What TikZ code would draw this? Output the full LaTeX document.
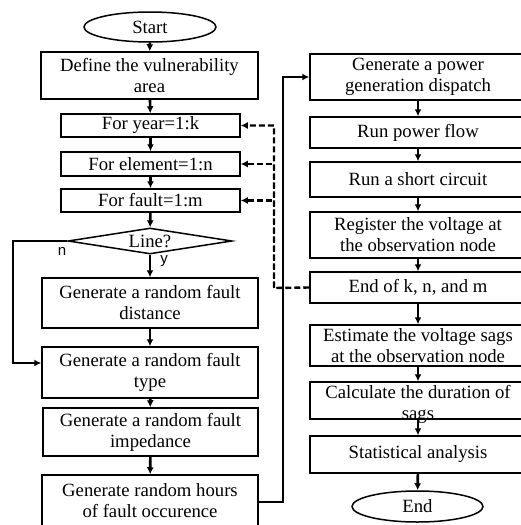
\documentclass[tikz,border=0pt]{standalone}
\usepackage{fontspec}
\setmainfont{Liberation Serif}
\newfontfamily\labsans{Liberation Sans}
\usetikzlibrary{arrows.meta,shapes.geometric,calc}
\begin{document}
\begin{tikzpicture}[x=1pt,y=-1pt,
  box/.style={draw,line width=1.5pt,rectangle,align=center,inner sep=0pt,
    font=\fontsize{18.7}{21}\selectfont},
  lbox/.style={box,minimum width=217pt},
  fbox/.style={box,minimum width=179pt},
  rbox/.style={box,minimum width=216pt},
  term/.style={draw,line width=1.5pt,ellipse,inner sep=0pt,font=\fontsize{18.7}{21}\selectfont},
  txt/.style={align=center,inner sep=0pt,font=\fontsize{18.7}{21}\selectfont},
  conn/.style={line width=2.6pt,-{Latex[length=7pt,width=7pt]}},
  dconn/.style={line width=2.4pt,dash pattern=on 6pt off 3pt,-{Latex[length=7pt,width=7pt]}},
  lab/.style={font=\labsans\fontsize{15}{16}\selectfont,inner sep=0pt}]
\useasboundingbox (0,0) rectangle (520,525);
% left column
\node[term,minimum width=132pt,minimum height=30pt] (start) at (150,27) {Start};
\node[lbox,minimum height=47pt] (def) at (149.5,75.5) {Define the vulnerability\\area};
\node[fbox,minimum height=23pt] (year) at (150.5,125.5) {For year=1:k};
\node[fbox,minimum height=24pt] (elem) at (150.5,164) {For element=1:n};
\node[fbox,minimum height=23pt] (fault) at (150.5,200.5) {For fault=1:m};
\node[draw,line width=1.5pt,diamond,aspect=6.3,minimum width=164pt,minimum height=26pt,inner sep=0pt,font=\fontsize{18.7}{21}\selectfont] (line) at (150,241) {Line?};
\node[lbox,minimum width=216pt,minimum height=50pt] (dist) at (150,303) {Generate a random fault\\distance};
\node[lbox,minimum width=216pt,minimum height=51pt] (type) at (150,372.5) {Generate a random fault\\type};
\node[lbox,minimum width=215pt,minimum height=48pt] (imp) at (150.5,432) {Generate a random fault\\impedance};
\node[lbox,minimum width=216pt,minimum height=51pt] (hours) at (150,500.5) {Generate random hours\\of fault occurence};
% right column
\node[rbox,minimum height=46pt] (gen) at (418,77) {Generate a power\\generation dispatch};
\node[rbox,minimum height=31pt] (pf) at (418,132.5) {Run power flow};
\node[rbox,minimum height=35pt] (sc) at (418,179.5) {Run a short circuit};
\node[rbox,minimum height=46pt] (reg) at (418,235) {Register the voltage at\\the observation node};
\node[rbox,minimum height=31pt] (endk) at (418,287.5) {End of k, n, and m};
\node[rbox,minimum height=41pt] (est) at (418,345.5) {Estimate the voltage sags\\at the observation node};
\node[rbox,minimum height=37pt] (calc) at (418,400.5) {};
\node[txt] (calctxt) at (418,404) {Calculate the duration of\\sags};
\node[rbox,minimum height=37pt] (stat) at (418,454.5) {Statistical analysis};
\node[term,minimum width=131pt,minimum height=31pt] (end) at (417.5,506.5) {End};
% labels
\node[lab] (nlab) at (62,251) {n};
\node[lab] (ylab) at (164,261) {y};
% coordinates
\coordinate (nl) at (13,363);
\coordinate (hr) at (283,502);
\coordinate (dv) at (274,288);
% connectors left
\draw[conn] (start) -- (def);
\draw[conn] (def) -- (year);
\draw[conn] (year) -- (elem);
\draw[conn] (elem) -- (fault);
\draw[conn] (fault) -- (line);
\draw[conn] (line) -- (dist);
\draw[conn] (dist) -- (type);
\draw[conn] (type) -- (imp);
\draw[conn] (imp) -- (hours);
\draw[conn] (line.west) -| (nl) -- (type.west |- nl);
\draw[conn] (hours.east |- hr) -- (hr) |- (gen.west);
% connectors right
\draw[conn] (gen) -- (pf);
\draw[conn] (pf) -- (sc);
\draw[conn] (sc) -- (reg);
\draw[conn] (reg) -- (endk);
\draw[conn] (endk) -- (est);
\draw[conn] (est) -- (calc);
\draw[conn] (calc) -- (stat);
\draw[conn] (stat) -- (end);
% dashed loops
\draw[dconn] (endk.west) -- (dv) |- (year.east);
\draw[dconn] (dv) |- (elem.east);
\draw[dconn] (dv) |- (fault.east);
\end{tikzpicture}
\end{document}
